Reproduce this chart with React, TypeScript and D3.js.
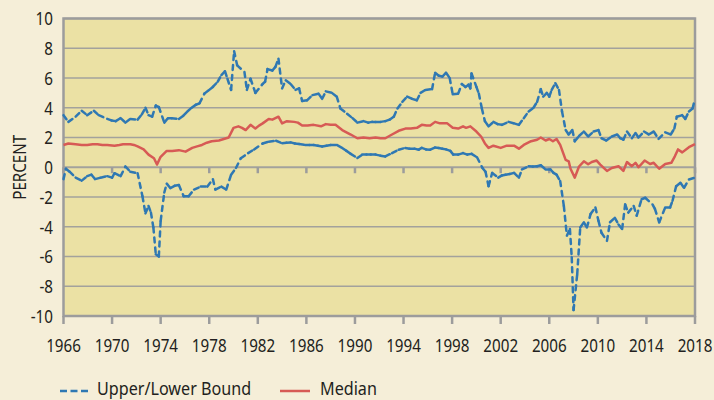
import * as d3 from 'd3';
import React, { useEffect } from 'react';

// values (year, percent)
const upperBound: [number, number][] = [
  [1966.0, 3.5], [1966.4, 3.05], [1967.0, 3.4], [1967.5, 3.8], [1967.95, 3.5], [1968.5, 3.8], [1968.9, 3.5],
  [1969.6, 3.25], [1969.95, 3.15], [1970.3, 3.1], [1970.7, 3.3], [1971.1, 3.0], [1971.5, 3.25], [1972.1, 3.2],
  [1972.45, 3.55], [1972.75, 4.0], [1973.0, 3.5], [1973.3, 3.4], [1973.6, 4.15], [1973.85, 4.05], [1974.3, 3.0],
  [1974.6, 3.3], [1974.9, 3.3], [1975.5, 3.25], [1975.85, 3.45], [1976.2, 3.75], [1976.55, 4.0], [1976.9, 4.2],
  [1977.2, 4.3], [1977.6, 4.95], [1978.0, 5.2], [1978.3, 5.4], [1978.7, 5.75], [1979.0, 6.2], [1979.3, 6.45],
  [1979.5, 5.95], [1979.8, 5.2], [1980.05, 7.8], [1980.3, 6.85], [1980.9, 6.4], [1981.1, 5.2], [1981.4, 5.95],
  [1981.8, 5.0], [1982.4, 5.6], [1982.6, 5.75], [1982.8, 6.6], [1983.2, 6.5], [1983.45, 6.75], [1983.7, 7.3],
  [1984.0, 5.3], [1984.3, 5.85], [1984.7, 5.6], [1985.1, 5.2], [1985.4, 5.3], [1985.65, 4.45], [1986.05, 4.5],
  [1986.5, 4.85], [1987.0, 4.95], [1987.3, 4.6], [1987.6, 5.1], [1988.1, 5.0], [1988.5, 4.75], [1988.8, 3.95],
  [1989.35, 3.6], [1989.8, 3.3], [1990.2, 3.0], [1990.7, 3.1], [1991.1, 3.0], [1991.4, 3.05], [1991.7, 3.05],
  [1992.1, 3.05], [1992.5, 3.1], [1992.85, 3.2], [1993.2, 3.4], [1993.5, 3.95], [1993.9, 4.4], [1994.3, 4.75],
  [1994.7, 4.6], [1995.1, 4.5], [1995.4, 5.0], [1995.8, 5.2], [1996.35, 5.25], [1996.6, 6.35], [1996.9, 6.15],
  [1997.2, 6.1], [1997.5, 6.35], [1997.8, 6.0], [1998.05, 4.9], [1998.5, 4.95], [1998.8, 5.6], [1999.1, 5.4],
  [1999.35, 5.55], [1999.5, 5.3], [1999.6, 6.3], [2000.0, 5.4], [2000.2, 4.95], [2000.45, 3.95], [2000.7, 3.1],
  [2001.0, 2.75], [2001.4, 3.05], [2001.75, 2.9], [2002.1, 2.85], [2002.65, 3.05], [2003.1, 2.95], [2003.5, 2.85],
  [2003.9, 3.3], [2004.3, 3.75], [2004.7, 4.0], [2005.0, 4.4], [2005.3, 5.25], [2005.5, 4.75], [2005.8, 5.0],
  [2006.0, 4.75], [2006.2, 5.2], [2006.5, 5.65], [2006.8, 5.2], [2007.05, 3.75], [2007.35, 2.5], [2007.6, 2.2],
  [2007.9, 2.5], [2008.1, 1.75], [2008.45, 2.1], [2008.85, 2.4], [2009.2, 2.07], [2009.65, 2.4], [2010.05, 2.5],
  [2010.3, 1.95], [2010.7, 1.8], [2011.15, 2.07], [2011.6, 2.2], [2011.85, 1.95], [2012.1, 1.85], [2012.4, 2.4],
  [2012.8, 1.95], [2013.1, 2.3], [2013.35, 2.0], [2013.8, 2.4], [2014.2, 2.2], [2014.6, 2.4], [2015.0, 1.9],
  [2015.55, 2.35], [2016.0, 2.2], [2016.3, 2.6], [2016.5, 3.4], [2016.95, 3.5], [2017.2, 3.25], [2017.5, 3.75],
  [2017.8, 3.95], [2018.0, 4.6],
];

const median: [number, number][] = [
  [1966.0, 1.5], [1966.4, 1.6], [1967.0, 1.55], [1967.5, 1.5], [1967.95, 1.5], [1968.4, 1.55], [1968.8, 1.55],
  [1969.2, 1.5], [1969.6, 1.5], [1970.2, 1.45], [1970.6, 1.5], [1970.9, 1.55], [1971.5, 1.55], [1971.8, 1.5],
  [1972.1, 1.4], [1972.6, 1.2], [1973.0, 0.85], [1973.45, 0.6], [1973.7, 0.18], [1974.0, 0.7], [1974.5, 1.1],
  [1974.95, 1.1], [1975.5, 1.15], [1976.05, 1.05], [1976.6, 1.3], [1977.0, 1.4], [1977.4, 1.5], [1977.8, 1.65],
  [1978.2, 1.75], [1978.8, 1.8], [1979.2, 1.9], [1979.6, 2.0], [1980.0, 2.65], [1980.4, 2.75], [1980.7, 2.65],
  [1981.0, 2.5], [1981.4, 2.85], [1981.8, 2.6], [1982.1, 2.8], [1982.4, 2.95], [1982.9, 3.25], [1983.2, 3.2],
  [1983.45, 3.3], [1983.7, 3.4], [1984.0, 2.95], [1984.4, 3.1], [1985.0, 3.05], [1985.3, 3.0], [1985.65, 2.8],
  [1986.1, 2.8], [1986.6, 2.85], [1987.2, 2.75], [1987.6, 2.9], [1988.0, 2.85], [1988.4, 2.85], [1988.95, 2.5],
  [1989.3, 2.35], [1989.65, 2.2], [1990.2, 1.95], [1990.7, 2.0], [1991.2, 1.95], [1991.7, 2.0], [1992.1, 1.95],
  [1992.5, 1.95], [1993.05, 2.2], [1993.6, 2.45], [1994.15, 2.6], [1994.6, 2.6], [1995.1, 2.65], [1995.5, 2.85],
  [1995.9, 2.8], [1996.2, 2.8], [1996.6, 3.05], [1997.0, 2.95], [1997.3, 2.95], [1997.6, 2.95], [1998.05, 2.65],
  [1998.5, 2.6], [1998.9, 2.75], [1999.15, 2.65], [1999.5, 2.75], [2000.0, 2.4], [2000.4, 2.05], [2000.7, 1.6],
  [2001.0, 1.3], [2001.4, 1.45], [2002.0, 1.3], [2002.5, 1.45], [2003.1, 1.45], [2003.5, 1.25], [2003.9, 1.5],
  [2004.5, 1.75], [2005.0, 1.85], [2005.3, 2.0], [2005.7, 1.8], [2006.0, 1.9], [2006.3, 1.75], [2006.6, 1.9],
  [2006.9, 1.5], [2007.35, 0.5], [2007.6, 0.4], [2007.75, -0.1], [2008.1, -0.7], [2008.45, 0.05], [2008.85, 0.4],
  [2009.2, 0.2], [2009.5, 0.35], [2009.9, 0.45], [2010.2, 0.18], [2010.75, -0.25], [2011.15, -0.05], [2011.7, 0.07],
  [2012.1, -0.25], [2012.4, 0.35], [2012.8, 0.07], [2013.1, 0.3], [2013.35, 0.0], [2013.85, 0.45], [2014.3, 0.22],
  [2014.6, 0.3], [2015.05, -0.1], [2015.55, 0.22], [2016.05, 0.3], [2016.35, 0.75], [2016.6, 1.2], [2016.95, 1.0],
  [2017.5, 1.35], [2018.0, 1.55],
];

const lowerBound: [number, number][] = [
  [1966.0, -0.8], [1966.2, -0.1], [1966.5, -0.3], [1967.0, -0.7], [1967.5, -0.9], [1967.95, -0.6], [1968.3, -0.5],
  [1968.6, -0.8], [1969.05, -0.7], [1969.6, -0.6], [1970.0, -0.7], [1970.2, -0.4], [1970.7, -0.6], [1971.1, 0.05],
  [1971.5, -0.3], [1972.1, -0.4], [1972.5, -1.95], [1972.75, -3.1], [1973.0, -2.6], [1973.2, -3.05], [1973.4, -4.05],
  [1973.6, -5.85], [1973.85, -6.0], [1974.0, -3.6], [1974.3, -1.7], [1974.5, -1.1], [1974.8, -1.4], [1975.15, -1.25],
  [1975.5, -1.2], [1975.9, -1.95], [1976.3, -1.95], [1976.75, -1.5], [1977.3, -1.3], [1977.85, -1.3], [1978.3, -0.8],
  [1978.5, -1.5], [1979.0, -1.3], [1979.4, -1.5], [1979.8, -0.5], [1980.2, -0.05], [1980.6, 0.6], [1981.2, 0.95],
  [1981.7, 1.2], [1982.4, 1.6], [1982.9, 1.72], [1983.5, 1.78], [1984.0, 1.62], [1984.35, 1.65], [1984.7, 1.67],
  [1985.05, 1.6], [1985.4, 1.56], [1985.9, 1.5], [1986.25, 1.5], [1986.6, 1.5], [1986.95, 1.45], [1987.3, 1.4],
  [1987.65, 1.45], [1988.0, 1.5], [1988.5, 1.5], [1988.95, 1.3], [1989.3, 1.1], [1989.65, 0.9], [1990.2, 0.62],
  [1990.6, 0.85], [1990.95, 0.85], [1991.3, 0.85], [1991.7, 0.85], [1992.1, 0.78], [1992.5, 0.73], [1993.05, 0.95],
  [1993.6, 1.18], [1994.15, 1.3], [1994.5, 1.25], [1994.9, 1.25], [1995.25, 1.18], [1995.5, 1.3], [1995.85, 1.2],
  [1996.2, 1.18], [1996.6, 1.33], [1996.9, 1.3], [1997.2, 1.25], [1997.5, 1.2], [1997.85, 1.1], [1998.1, 0.85],
  [1998.5, 0.85], [1998.9, 0.95], [1999.25, 0.85], [1999.6, 0.9], [2000.05, 0.67], [2000.5, -0.05], [2000.75, -0.3],
  [2001.0, -1.27], [2001.3, -0.38], [2001.8, -0.7], [2002.1, -0.55], [2002.4, -0.5], [2002.75, -0.45], [2003.1, -0.38],
  [2003.5, -0.7], [2003.75, -0.15], [2004.3, 0.07], [2004.65, 0.05], [2005.0, 0.07], [2005.3, 0.13], [2005.7, -0.15],
  [2006.1, -0.15], [2006.35, -0.38], [2006.6, -0.5], [2006.9, -0.93], [2007.2, -2.6], [2007.45, -4.6], [2007.7, -4.15],
  [2007.85, -6.05], [2008.0, -9.6], [2008.3, -7.2], [2008.55, -4.05], [2008.85, -3.7], [2009.1, -4.05], [2009.4, -3.15],
  [2009.8, -2.7], [2010.05, -3.6], [2010.3, -4.4], [2010.75, -4.95], [2011.0, -3.7], [2011.4, -3.4], [2011.7, -3.85],
  [2012.0, -4.15], [2012.25, -2.5], [2012.5, -3.05], [2012.95, -2.6], [2013.2, -3.25], [2013.6, -2.15], [2013.9, -2.05],
  [2014.5, -2.5], [2014.7, -2.8], [2015.05, -3.7], [2015.55, -2.7], [2015.95, -2.7], [2016.15, -2.25], [2016.45, -1.27],
  [2016.8, -1.05], [2017.1, -1.38], [2017.5, -0.82], [2018.0, -0.7],
];

const yearTicks = d3.range(1966, 2019, 4);
const percentTicks = d3.range(-10, 11, 2);
const legendLabels = ['Upper/Lower Bound', 'Median'];

const PAGE_BG = '#f5eed8';
const PLOT_BG = '#ebe1a4';
const GRID = '#a3a29c';
const AXIS = '#9c9c9c';
const BLUE = '#2f78b3';
const RED = '#d75a55';
const FONT = '"Noto Sans", sans-serif';
const SQUEEZE = 0.8;

const App = () => {
  useEffect(() => {
    document.body.style.margin = '0';
    document.body.style.background = PAGE_BG;
  }, []);

  const width = 714;
  const height = 400;
  const x = d3.scaleLinear().domain([1966, 2018]).range([63.5, 695]);
  const y = d3.scaleLinear().domain([-10, 10]).range([316, 18.5]);
  const line = d3.line<[number, number]>().x((d) => x(d[0])).y((d) => y(d[1]));

  // dash pattern restarts on every segment, like the original spreadsheet chart
  const dashedSegments = (data: [number, number][], key: string) =>
    d3.pairs(data).map(([a, b], i) => (
      <path
        key={`${key}-${i}`}
        d={line([a, b]) as string}
        fill="none"
        stroke={BLUE}
        strokeWidth={2.5}
        strokeDasharray="5 5"
        strokeLinecap="round"
      />
    ));

  return (
    <svg width={width} height={height} style={{ display: 'block', background: PAGE_BG }}>
      <rect x={x(1966)} y={y(10)} width={x(2018) - x(1966)} height={y(-10) - y(10)} fill={PLOT_BG} />

      {percentTicks.map((t) => (
        <line key={`g${t}`} x1={x(1966)} x2={x(2018)} y1={y(t)} y2={y(t)} stroke={GRID} strokeWidth={t === 0 ? 2 : 1.5} />
      ))}

      {/* ticks on the zero line and on the bottom edge */}
      {yearTicks.map((t) => (
        <g key={`t${t}`} stroke={AXIS} strokeWidth={2.5}>
          <line x1={x(t)} x2={x(t)} y1={y(0)} y2={y(0) + 6} />
          <line x1={x(t)} x2={x(t)} y1={y(-10)} y2={y(-10) + 8} />
        </g>
      ))}

      <rect x={x(1966)} y={y(10)} width={x(2018) - x(1966)} height={y(-10) - y(10)} fill="none" stroke={AXIS} strokeWidth={2.5} />

      {dashedSegments(upperBound, 'up')}
      {dashedSegments(lowerBound, 'low')}
      <path d={line(median) as string} fill="none" stroke={RED} strokeWidth={2.5} strokeLinejoin="round" />

      <g fontFamily={FONT} fontSize={19} fill="#231f20">
        {percentTicks.map((t) => (
          <text key={`yl${t}`} transform={`translate(53,${y(t)}) scale(${SQUEEZE},1)`} textAnchor="end" dy="0.36em">
            {t}
          </text>
        ))}
        {yearTicks.map((t) => (
          <text key={`xl${t}`} transform={`translate(${x(t)},351.5) scale(${SQUEEZE},1)`} textAnchor="middle">
            {t}
          </text>
        ))}
        <text transform={`translate(26,${y(0)}) rotate(-90) scale(${SQUEEZE},1)`} textAnchor="middle">
          PERCENT
        </text>

        <line x1={60} x2={88} y1={391} y2={391} stroke={BLUE} strokeWidth={2.5} strokeDasharray="7 3.5" />
        <text transform={`translate(97,395) scale(0.85,1)`}>{legendLabels[0]}</text>
        <line x1={280} x2={310} y1={391} y2={391} stroke={RED} strokeWidth={2.5} />
        <text transform={`translate(320,395) scale(0.85,1)`}>{legendLabels[1]}</text>
      </g>
    </svg>
  );
};

export default App;
